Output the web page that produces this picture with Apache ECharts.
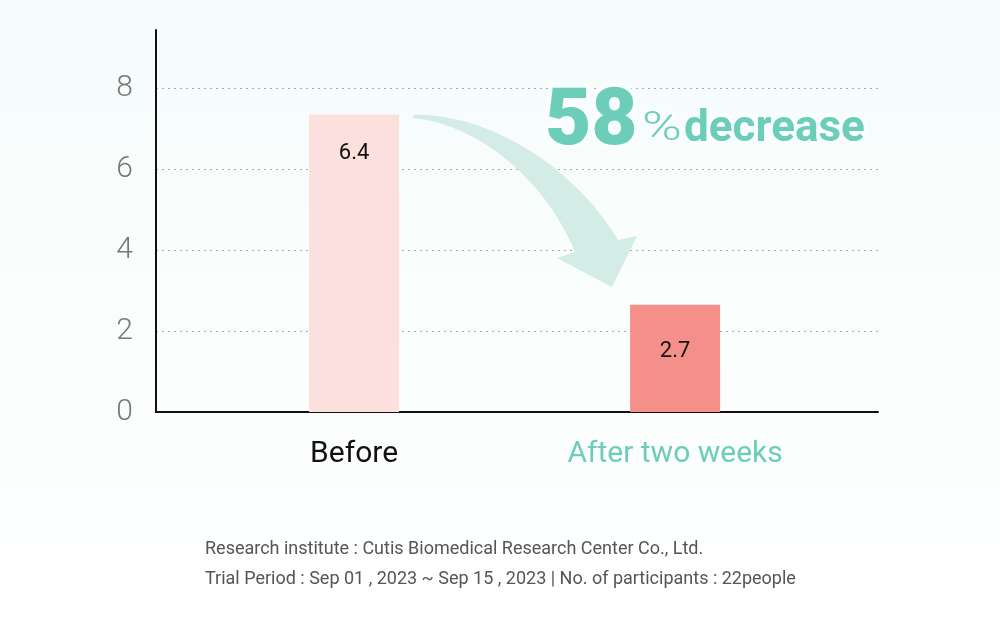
<!DOCTYPE html>
<html>
<head>
<meta charset="utf-8">
<script src="https://cdn.jsdelivr.net/npm/echarts@6/dist/echarts.min.js"></script>
<style>html,body{margin:0;padding:0;}#c{width:1000px;height:618px;}</style>
</head>
<body>
<div id="c"></div>
<script>
// ---- data ----
const categories = ['Before', 'After two weeks'];
const barValues = [7.35, 2.65];          // bar heights as drawn
const barLabels = ['6.4', '2.7'];        // printed values
const yTicks = [0, 2, 4, 6, 8];
const titleParts = ['58', '%', 'decrease'];
const notes = [
  'Research institute : Cutis Biomedical Research Center Co., Ltd.',
  'Trial Period : Sep 01 , 2023 ~ Sep 15 , 2023 | No. of participants : 22people'
];

// ---- styles ----
const TEAL = '#6ccdb9';
const barColors = ['#fce0dd', '#f58f89'];
const labelColors = ['#111111', TEAL];
const labelDistances = [28, 36];

const chart = echarts.init(document.getElementById('c'), null, {renderer: 'canvas'});
const font = 'Roboto, "Noto Sans", sans-serif';

// decorative curved arrow outline (pixel space)
function bez(p0, p1, p2, p3, n) {
  const out = [];
  for (let k = 0; k <= n; k++) {
    const t = k / n, u = 1 - t;
    out.push([
      u*u*u*p0[0] + 3*u*u*t*p1[0] + 3*u*t*t*p2[0] + t*t*t*p3[0],
      u*u*u*p0[1] + 3*u*u*t*p1[1] + 3*u*t*t*p2[1] + t*t*t*p3[1]
    ]);
  }
  return out;
}
const arrowPts = [].concat(
  bez([413,115],[480,112],[570,160],[618,240], 30),
  [[637,236],[612,287],[557,258]],
  bez([575,252],[545,180],[480,125],[413,118], 30)
);

const option = {
  backgroundColor: {
    type: 'linear', x: 0, y: 0, x2: 0, y2: 1,
    colorStops: [{offset: 0, color: '#f5fcfb'}, {offset: 1, color: '#ffffff'}]
  },
  animation: false,
  textStyle: {fontFamily: font},
  grid: {left: 156, right: 122, top: 30, bottom: 206},
  xAxis: {
    type: 'value',
    min: -0.617, max: 1.632,
    axisLine: {show: true, onZero: false, lineStyle: {color: '#111', width: 2}},
    axisTick: {show: false},
    splitLine: {show: false},
    axisLabel: {
      customValues: categories.map((c, i) => i),
      margin: 27,
      fontSize: 30,
      formatter: v => { const i = Math.round(v); return '{c' + i + '|' + categories[i] + '}'; },
      rich: {
        c0: {color: labelColors[0], fontSize: 30, fontFamily: font},
        c1: {color: labelColors[1], fontSize: 30, fontFamily: font}
      }
    }
  },
  yAxis: {
    type: 'value',
    min: 0, max: 9.44, interval: 2,
    axisLine: {show: true, onZero: false, lineStyle: {color: '#111', width: 2}},
    axisTick: {show: false},
    axisLabel: {
      margin: 23, fontSize: 30, color: '#777', fontWeight: 300,
      showMaxLabel: false,
      formatter: v => (yTicks.indexOf(v) >= 0 ? String(v) : '')
    },
    splitLine: {show: true, showMinLine: false, showMaxLine: false,
      lineStyle: {color: '#aaaaaa', type: [2, 4], width: 1.2}}
  },
  series: [{
    type: 'bar',
    barWidth: 90,
    data: barValues.map((v, i) => ({
      value: [i, v],
      itemStyle: {color: barColors[i]},
      label: {distance: labelDistances[i]}
    })),
    label: {
      show: true, position: 'insideTop',
      fontSize: 22, color: '#111',
      formatter: p => barLabels[p.dataIndex]
    },
    z: 2
  }],
  graphic: [
    {
      type: 'polygon', z: 3,
      shape: {points: arrowPts},
      style: {fill: '#d3ece6'}
    },
    {type: 'text', z: 5, left: 541, top: 80,
      style: {text: titleParts[0], font: '900 80px ' + font, fill: TEAL, stroke: '#fbfefe', lineWidth: 8}},
    {type: 'text', z: 5, x: 642, y: 110, scaleX: 1.35,
      style: {text: titleParts[1], font: '300 40px ' + font, fill: TEAL, stroke: '#fbfefe', lineWidth: 5}},
    {type: 'text', z: 5, left: 681, top: 105,
      style: {text: titleParts[2], font: 'bold 44px ' + font, fill: TEAL, stroke: '#fbfefe', lineWidth: 6}},
    {type: 'text', z: 5, left: 205, top: 540,
      style: {text: notes[0], font: '18px ' + font, fill: '#555'}},
    {type: 'text', z: 5, left: 205, top: 570,
      style: {text: notes[1], font: '18px ' + font, fill: '#555'}}
  ]
};
chart.setOption(option);
</script>
</body>
</html>
